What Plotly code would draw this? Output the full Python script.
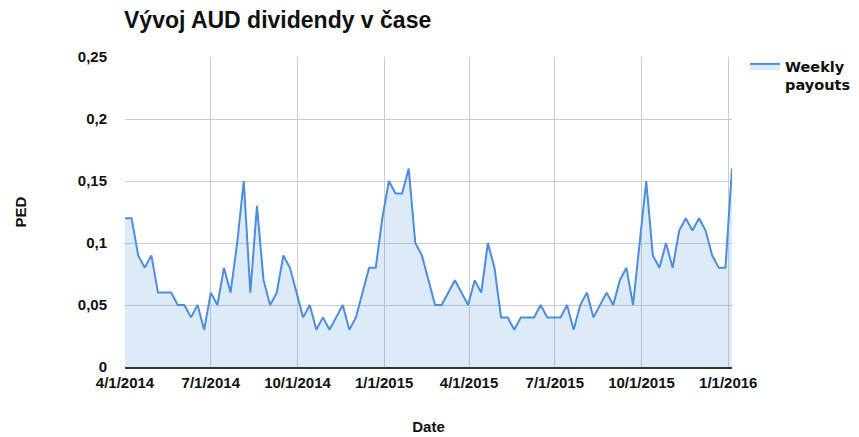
import pandas as pd
import plotly.graph_objects as go

start_date = "2014-04-01"
payouts = [
    0.12, 0.12, 0.09, 0.08, 0.09, 0.06, 0.06, 0.06, 0.05, 0.05,
    0.04, 0.05, 0.03, 0.06, 0.05, 0.08, 0.06, 0.10, 0.15, 0.06,
    0.13, 0.07, 0.05, 0.06, 0.09, 0.08, 0.06, 0.04, 0.05, 0.03,
    0.04, 0.03, 0.04, 0.05, 0.03, 0.04, 0.06, 0.08, 0.08, 0.12,
    0.15, 0.14, 0.14, 0.16, 0.10, 0.09, 0.07, 0.05, 0.05, 0.06,
    0.07, 0.06, 0.05, 0.07, 0.06, 0.10, 0.08, 0.04, 0.04, 0.03,
    0.04, 0.04, 0.04, 0.05, 0.04, 0.04, 0.04, 0.05, 0.03, 0.05,
    0.06, 0.04, 0.05, 0.06, 0.05, 0.07, 0.08, 0.05, 0.10, 0.15,
    0.09, 0.08, 0.10, 0.08, 0.11, 0.12, 0.11, 0.12, 0.11, 0.09,
    0.08, 0.08, 0.16,
]
dates = pd.date_range(start_date, periods=len(payouts), freq="7D")

x_tick_vals = ["2014-04-01", "2014-07-01", "2014-10-01", "2015-01-01",
               "2015-04-01", "2015-07-01", "2015-10-01", "2016-01-01"]
x_tick_text = ["4/1/2014", "7/1/2014", "10/1/2014", "1/1/2015",
               "4/1/2015", "7/1/2015", "10/1/2015", "1/1/2016"]
y_tick_vals = [0, 0.05, 0.1, 0.15, 0.2, 0.25]
y_tick_text = ["0", "0,05", "0,1", "0,15", "0,2", "0,25"]

LINE = "rgb(76,142,220)"
FONT = "Liberation Sans, Arial, sans-serif"

# page body has an 8px default margin; figure is sized to fit inside the window
W, H = 851, 429

fig = go.Figure()
fig.add_trace(go.Scatter(
    x=dates, y=payouts, mode="lines", name="<b>Weekly<br>payouts</b>",
    line=dict(color=LINE, width=2),
    fill="tozeroy", fillcolor="rgba(76,142,220,0.19)",
))

fig.update_layout(
    width=W, height=H,
    margin=dict(l=117, r=127, t=49, b=70, autoexpand=False),
    paper_bgcolor="white", plot_bgcolor="white",
    font=dict(family=FONT, size=15, color="#222"),
    title=dict(text="<b>Vývoj AUD dividendy v čase</b>",
               font=dict(family=FONT, size=23, color="#111"),
               x=116 / W, xanchor="left", xref="container",
               y=1 - 12 / H, yanchor="middle", yref="container"),
    showlegend=True,
    legend=dict(x=737 / W, xanchor="left", xref="container",
                y=1 - 42 / H, yanchor="top", yref="container", valign="top",
                font=dict(family="DejaVu Sans, sans-serif", size=14.5, color="#111"),
                bgcolor="rgba(0,0,0,0)", tracegroupgap=0),
    xaxis=dict(
        type="date", range=[dates[0], dates[-1]], automargin=False,
        tickvals=x_tick_vals, ticktext=["<b>%s</b>" % t for t in x_tick_text],
        tickfont=dict(family=FONT, size=15, color="#111"),
        showgrid=True, gridcolor="#cccccc", gridwidth=1,
        showline=True, linecolor="#333333", linewidth=2,
        zeroline=False, ticks="outside", ticklen=1, tickcolor="rgba(0,0,0,0)",
        title=dict(text="<b>Date</b>", font=dict(family=FONT, size=15, color="#111"),
                   standoff=31),
    ),
    yaxis=dict(
        range=[0, 0.25], automargin=False,
        tickvals=y_tick_vals, ticktext=["<b>%s</b>" % t for t in y_tick_text],
        tickfont=dict(family=FONT, size=15, color="#111"),
        showgrid=True, gridcolor="#cccccc", gridwidth=1,
        zeroline=False, showline=False,
        ticks="outside", ticklen=14, tickcolor="rgba(0,0,0,0)",
        title=dict(text="<b>PED</b>", font=dict(family=FONT, size=15, color="#111"),
                   standoff=47),
    ),
)

fig.write_html("out.html")
